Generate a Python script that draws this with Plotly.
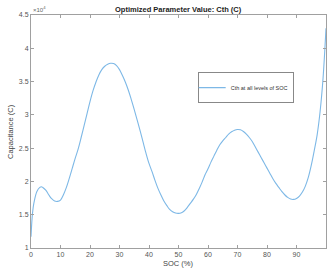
import plotly.graph_objects as go

soc = [0, 0.5, 1, 2, 3, 3.5, 4, 5, 6, 7, 8, 9, 10, 11, 12, 13, 14, 15, 16, 17, 18, 19, 20,
       21, 22, 23, 24, 25, 26, 27, 28, 29, 30, 31, 32, 33, 34, 35, 36, 37, 38, 39, 40,
       41, 42, 43, 44, 45, 46, 47, 48, 49, 50, 51, 52, 53, 54, 55, 56, 57, 58, 59, 60,
       61, 62, 63, 64, 65, 66, 67, 68, 69, 70, 71, 72, 73, 74, 75, 76, 77, 78, 79, 80,
       81, 82, 83, 84, 85, 86, 87, 88, 89, 90, 91, 92, 93, 94, 95, 96, 97, 98, 99, 100]
cth = [1.17, 1.52, 1.68, 1.85, 1.91, 1.92, 1.91, 1.87, 1.80, 1.74, 1.705, 1.70, 1.72, 1.80, 1.91,
       2.05, 2.20, 2.35, 2.49, 2.66, 2.84, 3.02, 3.20, 3.36, 3.49, 3.60, 3.68, 3.73, 3.76, 3.775,
       3.77, 3.74, 3.68, 3.59, 3.49, 3.37, 3.23, 3.08, 2.92, 2.76, 2.59, 2.42, 2.27, 2.15, 2.02,
       1.90, 1.80, 1.71, 1.64, 1.58, 1.545, 1.525, 1.52, 1.53, 1.56, 1.61, 1.67, 1.73, 1.80, 1.89,
       1.99, 2.10, 2.19, 2.29, 2.38, 2.47, 2.55, 2.61, 2.66, 2.71, 2.745, 2.77, 2.78, 2.775, 2.75,
       2.71, 2.66, 2.60, 2.52, 2.44, 2.36, 2.28, 2.20, 2.12, 2.04, 1.97, 1.91, 1.85, 1.80, 1.76,
       1.735, 1.73, 1.745, 1.78, 1.84, 1.93, 2.06, 2.24, 2.46, 2.70, 3.05, 3.55, 4.30]

x_ticks = [0, 10, 20, 30, 40, 50, 60, 70, 80, 90, 100]
y_ticks = [1, 1.5, 2, 2.5, 3, 3.5, 4, 4.5]

FONT = "Liberation Sans"
AX = "#a0a0a0"

fig = go.Figure()
fig.add_trace(go.Scatter(x=soc, y=cth, mode="lines", line=dict(color="#7db8e6", width=1.1, shape="spline"),
                         name="Cth at all levels of SOC"))

axis_common = dict(showgrid=False, zeroline=False, showline=True, linecolor=AX, linewidth=1,
                   mirror="ticks", ticks="inside", ticklen=3, tickcolor=AX, automargin=False,
                   tickfont=dict(family=FONT, size=7, color="#555555"))
fig.update_xaxes(range=[0, 100], tickvals=x_ticks, **axis_common)
fig.update_yaxes(range=[1, 4.5], tickvals=y_ticks, **axis_common)

fig.update_layout(
    width=331, height=269,
    margin=dict(l=31, r=5, t=15, b=21),
    paper_bgcolor="white", plot_bgcolor="white",
    font=dict(family=FONT),
    showlegend=True,
    legend=dict(x=0.565, y=0.755, xanchor="left", yanchor="top", bgcolor="white",
                bordercolor="#888888", borderwidth=1, font=dict(family=FONT, size=5.5, color="#333333"),
                itemwidth=30, tracegroupgap=0, indentation=-8),
    annotations=[
        dict(text="<b>Optimized Parameter Value: Cth (C)</b>", x=0.5, y=1.0, xref="paper", yref="paper",
             xanchor="center", yanchor="bottom", yshift=-1, showarrow=False,
             font=dict(family=FONT, size=7.5, color="#222222")),
        dict(text="×10<sup>4</sup>", x=0, y=1.0, xref="paper", yref="paper", xanchor="left", yanchor="bottom",
             showarrow=False, font=dict(family=FONT, size=6, color="#666666")),
        dict(text="SOC (%)", x=0.5, y=0, xref="paper", yref="paper", xanchor="center", yanchor="top",
             yshift=-9, showarrow=False, font=dict(family=FONT, size=7.5, color="#444444")),
        dict(text="Capacitance (C)", x=0, y=0.5, xref="paper", yref="paper", xanchor="right", yanchor="middle",
             xshift=-14, textangle=-90, showarrow=False, font=dict(family=FONT, size=7.5, color="#444444")),
    ],
)

fig.write_html("out.html", config={"displayModeBar": False},
               post_script="document.body.style.margin='0';document.body.style.overflow='hidden';")
